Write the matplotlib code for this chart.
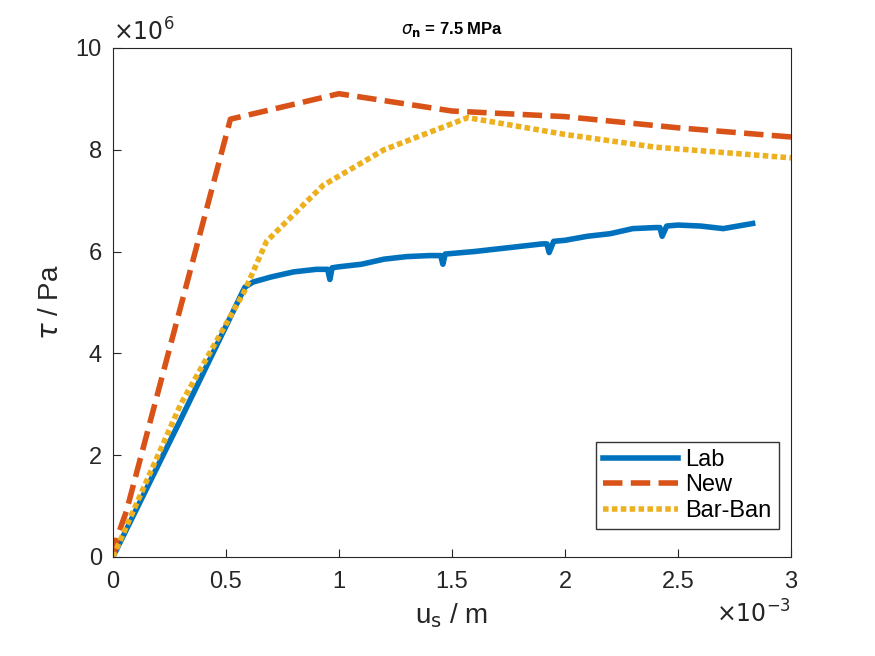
import matplotlib
matplotlib.use("Agg")
import matplotlib.pyplot as plt

plt.rcParams['font.family'] = ['Liberation Sans', 'DejaVu Sans']

lab_x = [0, 0.1e-3, 0.3e-3, 0.584e-3, 0.62e-3, 0.7e-3, 0.8e-3, 0.9e-3, 0.95e-3, 0.96e-3, 0.97e-3, 1.0e-3, 1.1e-3, 1.2e-3, 1.3e-3, 1.4e-3, 1.45e-3, 1.46e-3, 1.47e-3, 1.6e-3, 1.7e-3, 1.8e-3, 1.9e-3, 1.92e-3, 1.93e-3, 1.95e-3, 2.0e-3, 2.1e-3, 2.2e-3, 2.3e-3, 2.4e-3, 2.42e-3, 2.43e-3, 2.45e-3, 2.5e-3, 2.6e-3, 2.7e-3, 2.83e-3]
lab_y = [0, 0.9e6, 2.7e6, 5.3e6, 5.4e6, 5.5e6, 5.6e6, 5.65e6, 5.65e6, 5.45e6, 5.68e6, 5.7e6, 5.75e6, 5.85e6, 5.9e6, 5.92e6, 5.92e6, 5.75e6, 5.95e6, 6.0e6, 6.05e6, 6.1e6, 6.15e6, 6.15e6, 5.98e6, 6.2e6, 6.22e6, 6.3e6, 6.35e6, 6.45e6, 6.47e6, 6.47e6, 6.3e6, 6.5e6, 6.52e6, 6.5e6, 6.45e6, 6.55e6]
new_x = [0, 0.02e-3, 0.06e-3, 0.52e-3, 1.0e-3, 1.5e-3, 2.0e-3, 2.5e-3, 3.0e-3]
new_y = [0, 0.4e6, 0.9e6, 8.6e6, 9.1e6, 8.76e6, 8.65e6, 8.43e6, 8.25e6]
bb_x = [0, 0.3e-3, 0.58e-3, 0.68e-3, 0.93e-3, 1.2e-3, 1.57e-3, 2.0e-3, 2.4e-3, 3.0e-3]
bb_y = [0, 3.0e6, 5.2e6, 6.2e6, 7.3e6, 8.0e6, 8.63e6, 8.3e6, 8.05e6, 7.84e6]

fig = plt.figure(figsize=(8.75, 6.56), dpi=100)
ax = fig.add_axes([0.129, 0.151, 0.775, 0.776])
ax.plot(lab_x, lab_y, color='#0072BD', lw=4, label='Lab')
ax.plot(new_x, new_y, color='#D95319', lw=4, ls=(0, (3.5, 1.5)), label='New')
ax.plot(bb_x, bb_y, color='#EDB120', lw=4, ls=(0, (1, 0.6)), label='Bar-Ban')
ax.set_xlim(0, 3e-3)
ax.set_ylim(0, 10e6)
ax.set_xticks([0, 0.5e-3, 1e-3, 1.5e-3, 2e-3, 2.5e-3, 3e-3])
ax.set_xticklabels(['0', '0.5', '1', '1.5', '2', '2.5', '3'])
ax.set_yticks([0, 2e6, 4e6, 6e6, 8e6, 10e6])
ax.set_yticklabels(['0', '2', '4', '6', '8', '10'])
ax.tick_params(labelsize=17, direction='in', length=6, color='#262626', labelcolor='#262626')
ax.tick_params(axis='x', pad=10)
ax.tick_params(axis='y', pad=8)
ax.text(0, 1.005, r'$\times10^6$', transform=ax.transAxes, fontsize=17, color='#262626', va='bottom')
ax.text(1.0, -0.085, r'$\times10^{-3}$', transform=ax.transAxes, fontsize=17, color='#262626', va='top', ha='right')
ax.set_xlabel(r'u$_\mathrm{s}$ / m', fontsize=20, color='#262626', labelpad=6)
ax.set_ylabel(r'$\tau$ / Pa', fontsize=20, color='#262626', labelpad=8)
ax.set_title(r'$\sigma_\mathbf{n}$ = 7.5 MPa', fontsize=12, fontweight='bold', pad=10)
for s in ax.spines.values():
    s.set_color('#262626')
leg = ax.legend(loc='lower right', bbox_to_anchor=(0.982, 0.055), fontsize=17, fancybox=False,
                edgecolor='black', handlelength=3.2, labelspacing=0.15, handletextpad=0.3,
                borderpad=0.3, borderaxespad=0)
leg.get_frame().set_linewidth(1.0)
fig.savefig('out.png', dpi=100)
